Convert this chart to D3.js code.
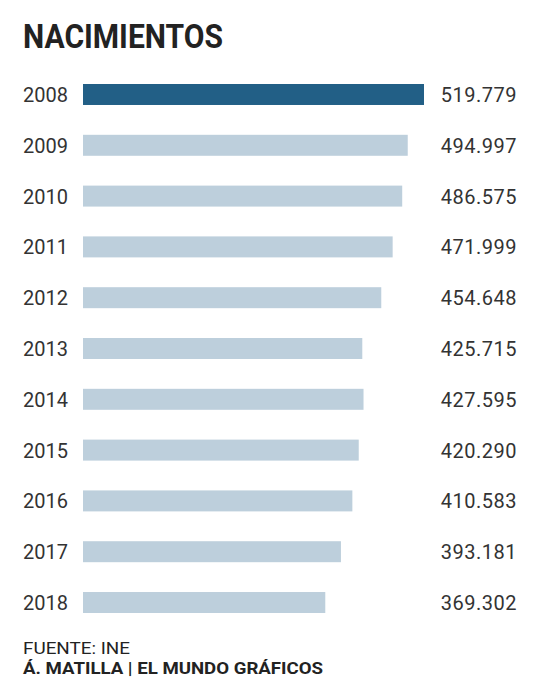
<!DOCTYPE html>
<html>
<head>
<meta charset="utf-8">
<script src="https://cdn.jsdelivr.net/npm/d3@7"></script>
<style>
  body { margin: 0; background: #fff; }
  svg text { font-family: Roboto, "Noto Sans", sans-serif; }
</style>
</head>
<body>
<svg id="chart" width="540" height="699"></svg>
<script>
// Datos: nacimientos por año (INE)
const years = ['2008', '2009', '2010', '2011', '2012', '2013', '2014', '2015', '2016', '2017', '2018'];
const births = [519779, 494997, 486575, 471999, 454648, 425715, 427595, 420290, 410583, 393181, 369302];
const labels = ['519.779', '494.997', '486.575', '471.999', '454.648', '425.715', '427.595', '420.290', '410.583', '393.181', '369.302'];

const rows = years.map((y, i) => ({ year: y, value: births[i], label: labels[i] }));

const svg = d3.select('#chart');

// Escalas
const x = d3.scaleLinear()
    .domain([0, d3.max(births)])
    .range([83, 424]);

const y = d3.scaleBand()
    .domain(years)
    .range([84, 613])
    .paddingInner(0.587)
    .paddingOuter(0);

// Título
svg.append('text')
    .attr('x', 23)
    .attr('y', 48)
    .attr('font-size', 33)
    .attr('font-weight', 700)
    .attr('fill', '#222')
    .attr('textLength', 200)
    .attr('lengthAdjust', 'spacingAndGlyphs')
    .text('NACIMIENTOS');

// Barras
svg.selectAll('.bar')
    .data(rows)
    .enter()
    .append('rect')
    .attr('class', 'bar')
    .attr('x', x(0))
    .attr('y', d => y(d.year))
    .attr('width', d => x(d.value) - x(0))
    .attr('height', y.bandwidth())
    .attr('fill', (d, i) => i === 0 ? '#225f86' : '#bdcfdc');

// Años
svg.selectAll('.year')
    .data(rows)
    .enter()
    .append('text')
    .attr('class', 'year')
    .attr('x', 23)
    .attr('y', d => y(d.year) + y.bandwidth() / 2 + 7.5)
    .attr('font-size', 20)
    .attr('fill', '#333')
    .text(d => d.year);

// Valores
svg.selectAll('.value')
    .data(rows)
    .enter()
    .append('text')
    .attr('class', 'value')
    .attr('x', 517)
    .attr('y', d => y(d.year) + y.bandwidth() / 2 + 7.5)
    .attr('text-anchor', 'end')
    .attr('font-size', 20)
    .attr('letter-spacing', 0.5)
    .attr('fill', '#333')
    .text(d => d.label);

// Fuente
svg.append('text')
    .attr('x', 23)
    .attr('y', 654)
    .attr('font-size', 16)
    .attr('fill', '#222')
    .attr('textLength', 107)
    .attr('lengthAdjust', 'spacingAndGlyphs')
    .text('FUENTE: INE');

svg.append('text')
    .attr('x', 23)
    .attr('y', 674)
    .attr('font-size', 16)
    .attr('font-weight', 700)
    .attr('fill', '#222')
    .attr('textLength', 300)
    .attr('lengthAdjust', 'spacingAndGlyphs')
    .text('Á. MATILLA | EL MUNDO GRÁFICOS');
</script>
</body>
</html>
